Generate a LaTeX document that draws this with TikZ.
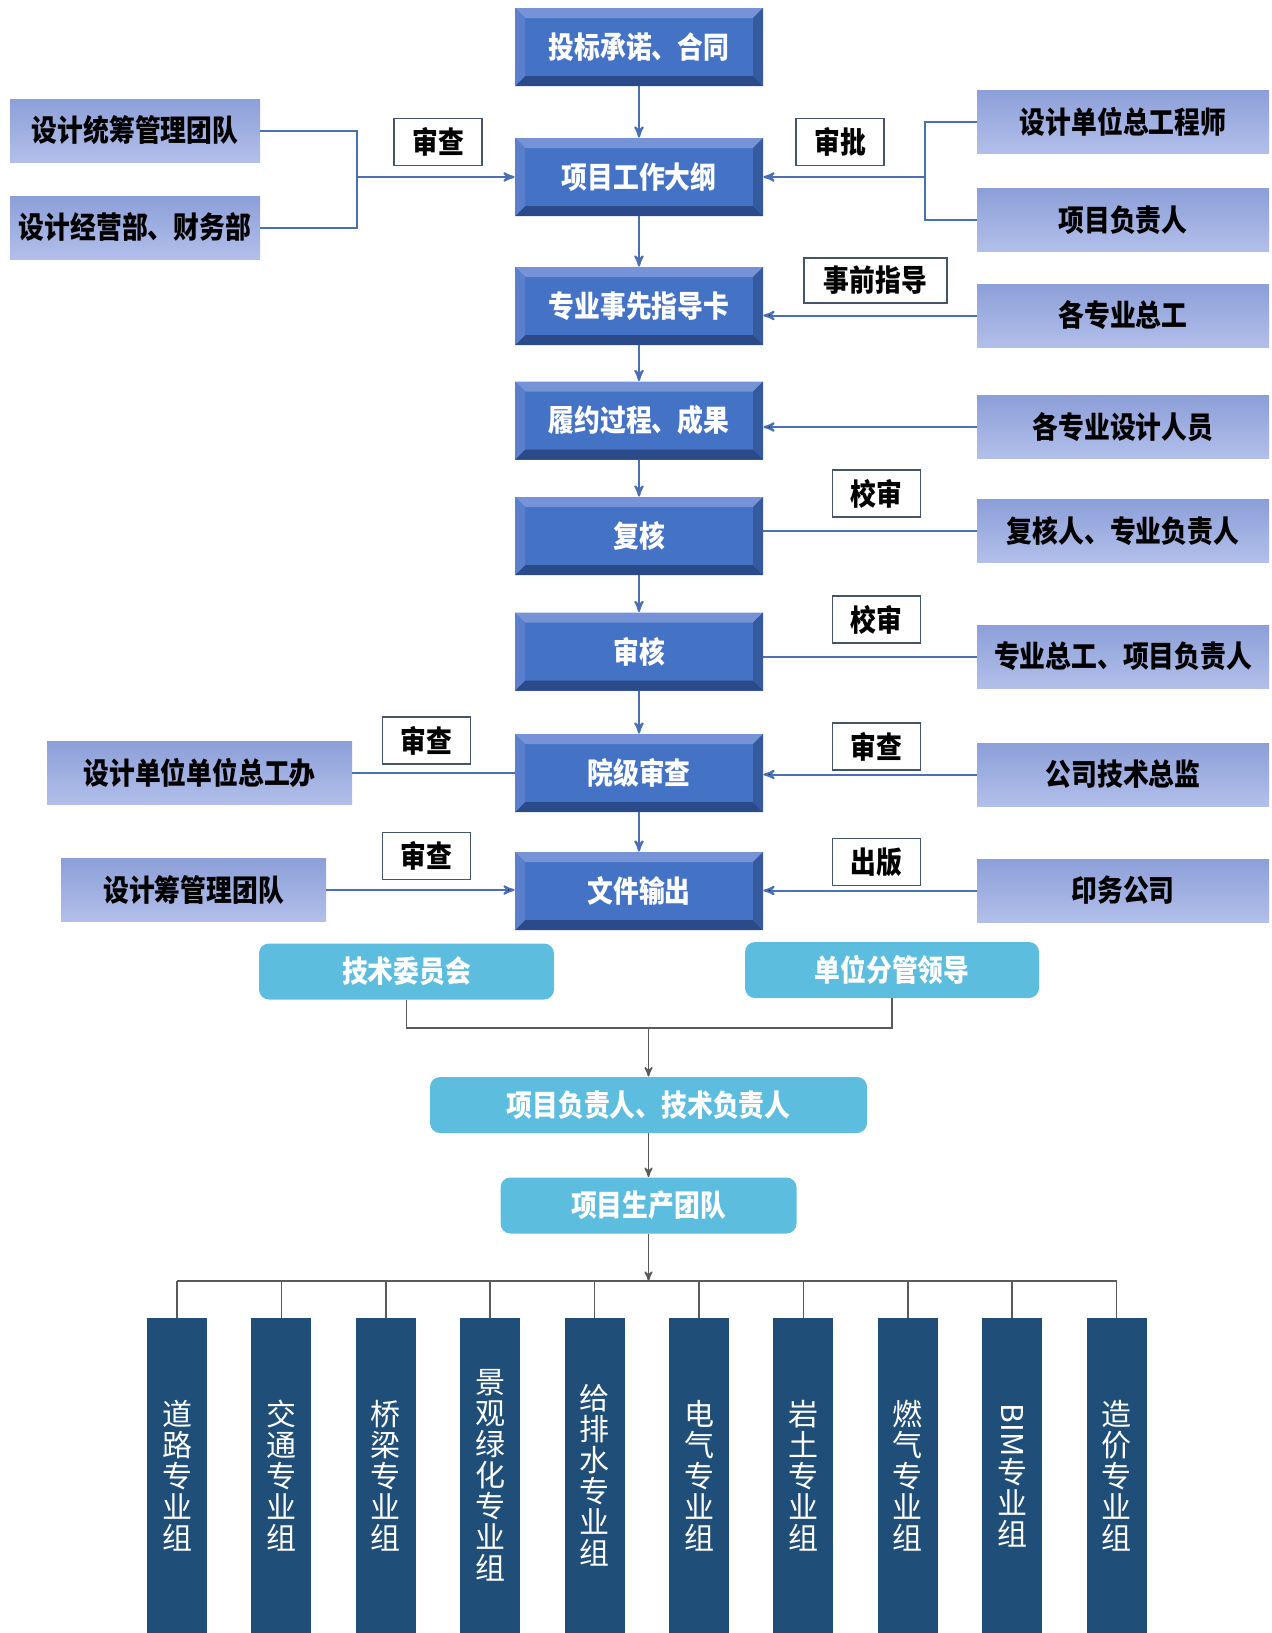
\documentclass[tikz,border=0pt]{standalone}
\usepackage{fontspec}
\setmainfont{Noto Sans CJK SC}
\newfontfamily\condfont[FakeStretch=0.86]{Noto Sans CJK SC}
\usetikzlibrary{arrows}
\usetikzlibrary{calc}
\usetikzlibrary{positioning}

\definecolor{phaseface}{HTML}{4472C4}
\definecolor{phaselight}{HTML}{7593D6}
\definecolor{phaseleft}{HTML}{5A7FCC}
\definecolor{phasedark}{HTML}{2A4A8A}
\definecolor{phaseright}{HTML}{365A9E}
\definecolor{partytop}{HTML}{8C9FD8}
\definecolor{partybot}{HTML}{B2BFEA}
\definecolor{tagdraw}{HTML}{44546A}
\definecolor{boardfill}{HTML}{5DBDDE}
\definecolor{groupfill}{HTML}{1F4E79}
\definecolor{flowline}{HTML}{4A6FB5}
\definecolor{treeline}{HTML}{5A5A5A}

\newcommand{\boldcond}{\condfont\bfseries\fontsize{15}{18}\selectfont}

\begin{document}
\begin{tikzpicture}[x=0.5pt,y=-0.5pt,>=stealth',
    phase/.style={rectangle,fill=phaseface,text=white,font=\boldcond,
      minimum width=124pt,minimum height=39pt,inner sep=0pt,
      path picture={
        \fill[phaselight] (path picture bounding box.north west) -- (path picture bounding box.north east)
          -- ([shift={(-5pt,-5pt)}]path picture bounding box.north east) -- ([shift={(5pt,-5pt)}]path picture bounding box.north west) -- cycle;
        \fill[phasedark] (path picture bounding box.south west) -- (path picture bounding box.south east)
          -- ([shift={(-5pt,5pt)}]path picture bounding box.south east) -- ([shift={(5pt,5pt)}]path picture bounding box.south west) -- cycle;
        \fill[phaseleft] (path picture bounding box.north west) -- ([shift={(5pt,-5pt)}]path picture bounding box.north west)
          -- ([shift={(5pt,5pt)}]path picture bounding box.south west) -- (path picture bounding box.south west) -- cycle;
        \fill[phaseright] (path picture bounding box.north east) -- ([shift={(-5pt,-5pt)}]path picture bounding box.north east)
          -- ([shift={(-5pt,5pt)}]path picture bounding box.south east) -- (path picture bounding box.south east) -- cycle;
      }},
    party/.style={rectangle,top color=partytop,bottom color=partybot,font=\boldcond,
      minimum height=31.5pt,inner sep=0pt},
    tag/.style={rectangle,draw=tagdraw,line width=0.75pt,fill=white,font=\boldcond,
      minimum width=44pt,minimum height=23.5pt,inner sep=0pt},
    board/.style={rectangle,rounded corners=5pt,fill=boardfill,text=white,font=\boldcond,
      minimum height=28pt,inner sep=0pt},
    group/.style={rectangle,fill=groupfill,text=white,font=\fontsize{15}{15.5}\selectfont,
      align=center,minimum width=30pt,minimum height=157.5pt,inner sep=0pt},
    flow/.style={draw=flowline,line width=1pt},
    tree/.style={draw=treeline,line width=0.75pt}]

  \useasboundingbox (0,0) rectangle (1271,1633);

  \node [phase] (Ph_1) at (639,47)    {投标承诺、合同};
  \node [phase] (Ph_2) at (639,177)   {项目工作大纲};
  \node [phase] (Ph_3) at (639,306)   {专业事先指导卡};
  \node [phase] (Ph_4) at (639,420.5) {履约过程、成果};
  \node [phase] (Ph_5) at (639,536)   {复核};
  \node [phase] (Ph_6) at (639,651.5) {审核};
  \node [phase] (Ph_7) at (639,773)   {院级审查};
  \node [phase] (Ph_8) at (639,891)   {文件输出};

  \node [party,minimum width=125pt]   (L_1) at (135,130.5)   {设计统筹管理团队};
  \node [party,minimum width=125pt]   (L_2) at (135,227.5)   {设计经营部、财务部};
  \node [party,minimum width=152.5pt] (L_3) at (199.5,773)   {设计单位单位总工办};
  \node [party,minimum width=132.5pt] (L_4) at (193.5,890)   {设计筹管理团队};

  \node [party,minimum width=146pt] (R_1) at (1123,121.5) {设计单位总工程师};
  \node [party,minimum width=146pt] (R_2) at (1123,220)   {项目负责人};
  \node [party,minimum width=146pt] (R_3) at (1123,315.5) {各专业总工};
  \node [party,minimum width=146pt] (R_4) at (1123,427)   {各专业设计人员};
  \node [party,minimum width=146pt] (R_5) at (1123,531)   {复核人、专业负责人};
  \node [party,minimum width=146pt] (R_6) at (1123,656.5) {专业总工、项目负责人};
  \node [party,minimum width=146pt] (R_7) at (1123,774.5) {公司技术总监};
  \node [party,minimum width=146pt] (R_8) at (1123,890.5) {印务公司};

  \node [tag] (tag_l1) at (438,142)     {审查};
  \node [tag] (tag_r1) at (840,142)     {审批};
  \node [tag,minimum width=71.5pt,minimum height=22.5pt] (tag_r2) at (875.5,280.5) {事前指导};
  \node [tag] (tag_r3) at (876.5,493.5) {校审};
  \node [tag] (tag_r4) at (876.5,619.5) {校审};
  \node [tag] (tag_l2) at (426.5,740.5) {审查};
  \node [tag] (tag_r5) at (876.5,746.5) {审查};
  \node [tag] (tag_l3) at (426.5,856)   {审查};
  \node [tag] (tag_r6) at (876.5,862)   {出版};

  \foreach \i [count=\j from 2] in {1,...,7}
    \draw [flow,->] (Ph_\i.south) -- (Ph_\j.north);

  \coordinate (Lfork) at (357,177);
  \coordinate (Rfork) at (925,177);
  \draw [flow] (L_1.east) -| (Lfork) |- (L_2.east);
  \draw [flow,->] (Lfork) -- (Ph_2.west);
  \draw [flow] (R_1.west) -| (Rfork) |- (R_2.west);
  \draw [flow,->] (Rfork) -- (Ph_2.east);

  \path [flow]
    (R_3.west) edge [->] (R_3.west -| Ph_3.east)
    (R_4.west) edge [->] (R_4.west -| Ph_4.east)
    (R_5.west) edge      (R_5.west -| Ph_5.east)
    (R_6.west) edge      (R_6.west -| Ph_6.east)
    (R_7.west) edge [->] (R_7.west -| Ph_7.east)
    (R_8.west) edge [->] (R_8.west -| Ph_8.east)
    (L_3.east) edge      (L_3.east -| Ph_7.west)
    (L_4.east) edge [->] (L_4.east -| Ph_8.west);

  \node [board,minimum width=147.5pt] (T_1) at (406.5,971.5) {技术委员会};
  \node [board,minimum width=147pt]   (T_2) at (892,970)     {单位分管领导};
  \node [board,minimum width=218.5pt] (P_1) at (648.5,1105)  {项目负责人、技术负责人};
  \node [board,minimum width=148pt]   (P_2) at (648.5,1205.5) {项目生产团队};

  \coordinate (Tjoin) at (648.5,1028);
  \coordinate (bus) at (648.5,1281);
  \draw [tree] (T_1.south) |- (Tjoin) -| (T_2.south);
  \draw [tree,->] (Tjoin) -- (P_1.north);
  \draw [tree,->] (P_1.south) -- (P_2.north);
  \draw [tree,->] (P_2.south) -- (bus);

  \foreach \txt [count=\i] in {{道\\路\\专\\业\\组},{交\\通\\专\\业\\组},{桥\\梁\\专\\业\\组},
      {景\\观\\绿\\化\\专\\业\\组},{给\\排\\水\\专\\业\\组},{电\\气\\专\\业\\组},
      {岩\\土\\专\\业\\组},{燃\\气\\专\\业\\组},{\rotatebox{-90}{BIM}\\专\\业\\组},{造\\价\\专\\业\\组}}
    \node [group] (G_\i) at ({177+104.4*(\i-1)},1475.5) {\txt};

  \draw [tree] (G_1.north |- bus) -- (G_10.north |- bus);
  \foreach \i in {1,...,10}
    \draw [tree] (G_\i.north |- bus) -- (G_\i.north);

\end{tikzpicture}
\end{document}
